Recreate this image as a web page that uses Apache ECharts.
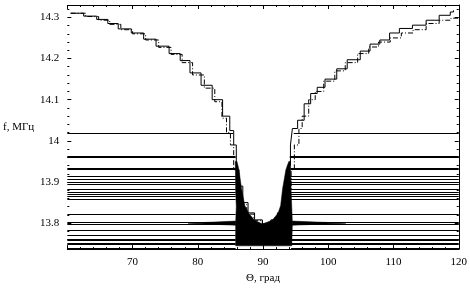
<!DOCTYPE html>
<html lang="ru">
<head>
    <meta charset="UTF-8">
    <title>f(Θ)</title>
    <style>
        *{
            margin: 0;
            padding: 0;
        }
        body{
            background: #FFFFFF;
        }
        #chart{
            width: 470px;
            height: 289px;
        }
    </style>
</head>
<body>
<div id="chart"></div>
<script src="https://cdn.jsdelivr.net/npm/echarts@6/dist/echarts.min.js"></script>
<script>
    // staircase curves, solid (A) and dash-dot (B)
    let curveATheta = [60.5, 62.5, 64.5, 66.2, 67.8, 69.8, 71.7, 73.6, 75.6, 77.3, 78.8, 80.5, 82.2, 83.8, 84.9, 85.5, 85.9, 86.3, 86.9, 87.7, 88.7, 89.9,
        91.2, 92.2, 92.9, 93.4, 93.8, 94.2, 94.5, 95.3, 96.3, 97.3, 98.3, 99.5, 101.3, 102.9, 104.9, 106.4, 107.9, 109.4, 110.9, 112.9, 115, 117, 118.7, 119.2];
    let curveAF = [14.31, 14.303, 14.295, 14.285, 14.272, 14.262, 14.247, 14.23, 14.212, 14.195, 14.165, 14.135, 14.1, 14.06, 14.025, 13.99, 13.93, 13.89, 13.85, 13.825, 13.808, 13.798,
        13.808, 13.825, 13.85, 13.89, 13.94, 13.99, 14.03, 14.05, 14.09, 14.115, 14.13, 14.15, 14.175, 14.197, 14.218, 14.235, 14.245, 14.262, 14.273, 14.281, 14.293, 14.305, 14.313, 14.317];
    let curveBTheta = [60.5, 62.8, 64.8, 66.5, 68.2, 70, 72, 74, 75.9, 77.6, 79.2, 81, 82.6, 83.7, 84.4, 85.0, 85.5, 86.0, 86.7, 87.5, 88.6, 89.9,
        91.3, 92.4, 93.2, 93.8, 94.3, 94.8, 95.5, 96.0, 97.0, 98.0, 99.3, 101, 102.6, 104.5, 106.2, 107.7, 109.5, 111.2, 113, 115, 117, 118.8, 120];
    let curveBF = [14.31, 14.302, 14.293, 14.283, 14.27, 14.26, 14.245, 14.227, 14.21, 14.19, 14.16, 14.128, 14.095, 14.055, 14.02, 13.99, 13.93, 13.88, 13.845, 13.822, 13.806, 13.797,
        13.806, 13.822, 13.845, 13.88, 13.93, 13.99, 14.03, 14.06, 14.1, 14.12, 14.145, 14.17, 14.19, 14.212, 14.228, 14.24, 14.25, 14.262, 14.27, 14.285, 14.293, 14.298, 14.3];

    // horizontal levels: frequency, where the left part ends, where the right part starts
    let levelF = [14.018, 13.964, 13.960, 13.935, 13.931, 13.914, 13.908, 13.900, 13.894, 13.882, 13.876, 13.870, 13.865, 13.859,
        13.823, 13.803, 13.799, 13.783, 13.772, 13.762, 13.758, 13.753, 13.750, 13.739];
    let levelLeftEnd = [85.4, 85.8, 85.8, 85.8, 85.8, 85.8, 85.8, 85.8, 85.8, 85.8, 85.8, 85.8, 85.8, 85.8,
        85.8, 85.8, 85.8, 85.8, 85.8, 85.8, 85.8, 85.8, 85.8, 85.8];
    let levelRightStart = [94.7, 94.1, 94.1, 94.2, 94.2, 94.2, 94.2, 94.2, 94.2, 94.2, 94.2, 94.2, 94.2, 94.2,
        94.3, 94.3, 94.3, 94.3, 94.3, 94.3, 94.3, 94.3, 94.3, 94.3];

    // dense dark region at the bottom of the V and the two thin wedges near 13.8
    let bandTheta = [85.75, 85.8, 85.9, 85.8, 85.8, 94.4, 94.5, 94.4, 94.3, 94.2,
        93.95, 93.5, 93.0, 92.7, 92.3, 91.4, 89.9, 88.7, 87.8, 87.2, 86.7, 86.3, 86.0];
    let bandF = [13.95, 13.88, 13.84, 13.80, 13.745, 13.745, 13.80, 13.84, 13.88, 13.95,
        13.95, 13.93, 13.884, 13.843, 13.824, 13.807, 13.798, 13.807, 13.824, 13.843, 13.884, 13.93, 13.95];
    let wedgeLeftTheta = [78.5, 85.8, 85.8];
    let wedgeLeftF = [13.800, 13.805, 13.795];
    let wedgeRightTheta = [94.5, 94.5, 102.7];
    let wedgeRightF = [13.805, 13.795, 13.800];

    let xTicks = [60, 120, 10];
    let yRange = [13.737, 14.33];

    let zip = (a, b) => a.map((v, i) => [v, b[i]]);
    let polygons = [zip(bandTheta, bandF), zip(wedgeLeftTheta, wedgeLeftF), zip(wedgeRightTheta, wedgeRightF)];

    let segments = [];
    for (let i = 0; i < levelF.length; i++) {
        segments.push([xTicks[0], levelLeftEnd[i], levelF[i]]);
        segments.push([levelRightStart[i], xTicks[1], levelF[i]]);
    }

    let font = {color: '#000', fontFamily: 'Liberation Serif', fontSize: 11};
    let tickStyle = {color: '#000', width: 1};

    let myChart = echarts.init(document.getElementById('chart'));
    myChart.setOption({
        animation: false,
        backgroundColor: '#FFFFFF',
        grid: {left: 62, right: 10, top: 5, bottom: 38},
        xAxis: [{
            type: 'value', min: xTicks[0], max: xTicks[1], interval: xTicks[2],
            name: 'Θ, град', nameLocation: 'middle', nameGap: 19, nameTextStyle: font,
            axisLine: {show: true, lineStyle: tickStyle},
            axisTick: {inside: true, length: 4, lineStyle: tickStyle},
            minorTick: {show: true, splitNumber: 5, length: 2, lineStyle: tickStyle},
            axisLabel: Object.assign({showMinLabel: false, margin: 8}, font),
            splitLine: {show: false}
        }, {
            type: 'value', min: xTicks[0], max: xTicks[1], interval: xTicks[2], position: 'top',
            axisLine: {show: true, lineStyle: tickStyle},
            axisTick: {inside: true, length: 4, lineStyle: tickStyle},
            minorTick: {show: true, splitNumber: 5, length: 2, lineStyle: tickStyle},
            axisLabel: {show: false},
            splitLine: {show: false}
        }],
        yAxis: [{
            type: 'value', min: yRange[0], max: yRange[1], splitNumber: 5,
            name: 'f, МГц', nameLocation: 'middle', nameGap: 26, nameRotate: 0, nameTextStyle: font,
            axisLine: {show: false},
            axisTick: {inside: true, length: 4, lineStyle: tickStyle},
            minorTick: {show: true, splitNumber: 5, length: 2, lineStyle: tickStyle},
            axisLabel: Object.assign({showMinLabel: false, showMaxLabel: false, margin: 8}, font),
            splitLine: {show: false}
        }, {
            type: 'value', min: yRange[0], max: yRange[1], splitNumber: 5, position: 'right',
            axisLine: {show: true, lineStyle: tickStyle},
            axisTick: {inside: true, length: 4, lineStyle: tickStyle},
            minorTick: {show: true, splitNumber: 5, length: 2, lineStyle: tickStyle},
            axisLabel: {show: false},
            splitLine: {show: false}
        }],
        series: [
            {
                type: 'custom',
                data: segments,
                clip: true,
                renderItem: function (params, api) {
                    let p1 = api.coord([api.value(0), api.value(2)]);
                    let p2 = api.coord([api.value(1), api.value(2)]);
                    let y = Math.round(p1[1]) + 0.5;
                    return {
                        type: 'line',
                        shape: {x1: p1[0], y1: y, x2: p2[0], y2: y},
                        style: {stroke: '#000', lineWidth: 1}
                    };
                }
            },
            {
                type: 'custom',
                data: polygons.map(p => p[0]),
                clip: true,
                renderItem: function (params, api) {
                    let pts = polygons[params.dataIndex].map(p => api.coord(p));
                    return {
                        type: 'polygon',
                        shape: {points: pts},
                        style: {fill: '#000', stroke: '#000', lineWidth: 0.5}
                    };
                }
            },
            {
                type: 'line',
                data: zip(curveATheta, curveAF),
                step: 'end',
                showSymbol: false,
                lineStyle: {color: '#000', width: 1}
            },
            {
                type: 'line',
                data: zip(curveBTheta, curveBF),
                step: 'end',
                showSymbol: false,
                lineStyle: {color: '#000', width: 1, type: [5, 2, 1, 2]}
            }
        ]
    });
</script>
</body>
</html>
